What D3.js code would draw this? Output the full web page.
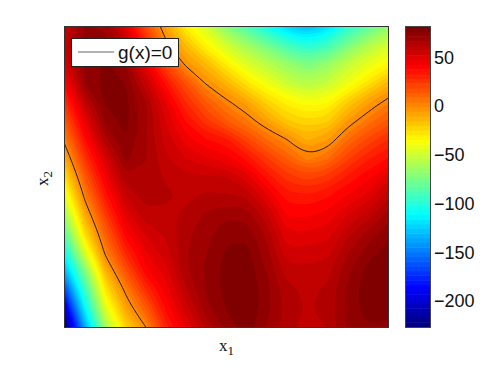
<!DOCTYPE html>
<html><head><meta charset="utf-8">
<script src="https://cdnjs.cloudflare.com/ajax/libs/d3/7.8.5/d3.min.js"></script>
<style>html,body{margin:0;padding:0;background:#fff}svg{display:block}</style>
</head><body><svg id="c" width="498" height="368"></svg>
<script>
// Surface values, rows top to bottom, columns left to right
const z00=[58,72,70,50,20,-7,-31,-48,-71,-88,-105,-122,-132,-120,-97,-82,-68];
const z01=[60,74,76,62,32,3,-15,-33,-48,-62,-76,-90,-100,-92,-74,-58,-47];
const z02=[52,72,77.5,72,47,20,-2,-14,-30,-45,-55,-65,-74,-66,-52,-42,-33];
const z03=[42,72.5,78,76,58,36,17,-1,-13,-27,-39,-50,-58,-52,-40,-27,-13];
const z04=[28,60,77,78,67,47,28,14,2,-8,-22,-32,-38,-35,-20,-7,3];
const z05=[16,48,73,78,68,52,37,25,14,5,-7,-19,-24,-21,-5,6,15];
const z06=[4,38,65,76,67,55,45,38,34,21,9,0,-11,-6,9,20,28];
const z07=[-10,27,52,73,67,58,52,48,45,36,24,13,2,8,22,32,38];
const z08=[-25,15,44,66,65,61,58,58,57,50,36,26,21,25,34,41,50];
const z09=[-42,4,35,57,64,63,60.5,63,62.5,61,48,35,33.5,37,43,49,60];
const z10=[-62,-9,24,49,60.5,60.5,63,67.5,70.5,69,58,42,41.5,44,52,59,68];
const z11=[-82,-24,13,41,53,58,65.5,70,75,75,65,48,48,50,60,68,75];
const z12=[-105,-44,3,30,47,55,66,71,77,78,68,53.5,54,55,66,74,78];
const z13=[-131,-72,-12,17,41,50,66,73,78,80,71,59.5,58.5,60,70,78,80];
const z14=[-165,-92,-28,3,28,45,61,72,78,81,73,63,60.8,62.5,72.5,79.5,80];
const z15=[-197,-111,-44,-8,14,39,55,70,76.5,81,73,65,61.4,63.5,73,79,78];
const z16=[-226,-135,-63,-22,0,31,48,63,73,79,71,64,59,62,72,76,75];
const zRows=[z00,z01,z02,z03,z04,z05,z06,z07,z08,z09,z10,z11,z12,z13,z14,z15,z16];
const colorbarTicks=[50,0,-50,-100,-150,-200];
const zMin=-226.5, zMax=81, bandCount=64;
const zeroLevel=0;
const legendLabel="g(x)=0";

const P={l:65,t:27,r:388,b:327};
const B={l:406,r:430};
const svg=d3.select("#c");
const nC=zRows[0].length,nR=zRows.length;

// one extra ring of cells beyond the frame, clipped off, keeps band shapes open at the frame
const pad=[];
for(let j=-1;j<=nR;j++)for(let i=-1;i<=nC;i++){
  const ci=Math.max(0,Math.min(nC-1,i)),cj=Math.max(0,Math.min(nR-1,j));
  let v=zRows[cj][ci];
  if(i<0)v+=zRows[cj][0]-zRows[cj][1];
  if(i>=nC)v+=zRows[cj][nC-1]-zRows[cj][nC-2];
  if(j<0)v+=zRows[0][ci]-zRows[1][ci];
  if(j>=nR)v+=zRows[nR-1][ci]-zRows[nR-2][ci];
  pad.push(v);
}
const gx=d3.scaleLinear().domain([1.5,nC+0.5]).range([P.l,P.r]);
const gy=d3.scaleLinear().domain([1.5,nR+0.5]).range([P.t,P.b]);
const levels=d3.range(bandCount+1).map(k=>zMin+(zMax-zMin)*k/bandCount);
const jet=d3.scaleLinear().domain([0,.125,.375,.625,.875,1])
  .range(["#000080","#0000ff","#00ffff","#ffff00","#ff0000","#800000"]);
const bandColor=k=>jet(k/(bandCount-1));
const ring=d3.line().x(d=>gx(d[0])).y(d=>gy(d[1])).curve(d3.curveBasisClosed);
const contourGen=d3.contours().size([nC+2,nR+2]);
const pathOf=g=>g.coordinates.map(poly=>poly.map(r=>ring(r.slice(0,-1))).join("")).join("");

svg.append("defs").append("clipPath").attr("id","pc").append("rect")
  .attr("x",P.l).attr("y",P.t).attr("width",P.r-P.l).attr("height",P.b-P.t);
const plot=svg.append("g").attr("clip-path","url(#pc)");
plot.append("rect").attr("x",P.l).attr("y",P.t).attr("width",P.r-P.l).attr("height",P.b-P.t).attr("fill",bandColor(0));
plot.selectAll("path.band").data(levels.slice(1,-1)).join("path").attr("class","band")
  .attr("fill-rule","evenodd")
  .attr("fill",(d,i)=>bandColor(i+1))
  .attr("d",d=>pathOf(contourGen.contour(pad,d)));
plot.append("path").attr("fill","none").attr("stroke","#111").attr("stroke-width",0.9)
  .attr("d",pathOf(contourGen.contour(pad,zeroLevel)));

// frame
svg.append("rect").attr("x",P.l-.5).attr("y",P.t-.5).attr("width",P.r-P.l+1).attr("height",P.b-P.t+1)
  .attr("fill","none").attr("stroke","#333").attr("stroke-width",1);

// legend
const lg=svg.append("g");
lg.append("rect").attr("x",71.5).attr("y",38.5).attr("width",107).attr("height",28).attr("fill","#fff").attr("stroke","#222");
lg.append("line").attr("x1",78).attr("x2",114).attr("y1",52).attr("y2",52).attr("stroke","#999").attr("stroke-width",1.5);
lg.append("text").attr("x",118).attr("y",59).attr("font-family","Liberation Sans").attr("font-size",19).attr("fill","#111").text(legendLabel);

// colour bar
const cy=d3.scaleLinear().domain([zMin,zMax]).range([P.b,P.t]);
svg.append("g").selectAll("rect").data(levels.slice(0,-1)).join("rect")
  .attr("x",B.l).attr("width",B.r-B.l)
  .attr("y",(d,i)=>cy(levels[i+1])).attr("height",(d,i)=>cy(d)-cy(levels[i+1])+.5)
  .attr("fill",(d,i)=>bandColor(i));
svg.append("rect").attr("x",B.l-.5).attr("y",P.t-.5).attr("width",B.r-B.l+1).attr("height",P.b-P.t+1)
  .attr("fill","none").attr("stroke","#444");
const ax=svg.append("g").attr("transform",`translate(${B.r},0)`)
  .call(d3.axisRight(cy).tickValues(colorbarTicks).tickSize(0).tickPadding(4));
ax.select(".domain").remove();
ax.selectAll("text").attr("font-family","Liberation Sans").attr("font-size",18).attr("fill","#111");

// axis titles
const t1=svg.append("text").attr("x",219).attr("y",351).attr("font-family","Liberation Serif").attr("font-size",17).attr("fill","#111");
t1.append("tspan").text("x");
t1.append("tspan").attr("dy",4).attr("font-size",13).text("1");
const t2=svg.append("text").attr("transform","translate(48,186) rotate(-90)").attr("font-family","Liberation Serif").attr("font-size",17).attr("fill","#111");
t2.append("tspan").text("x");
t2.append("tspan").attr("dy",4).attr("font-size",13).text("2");
</script></body></html>
